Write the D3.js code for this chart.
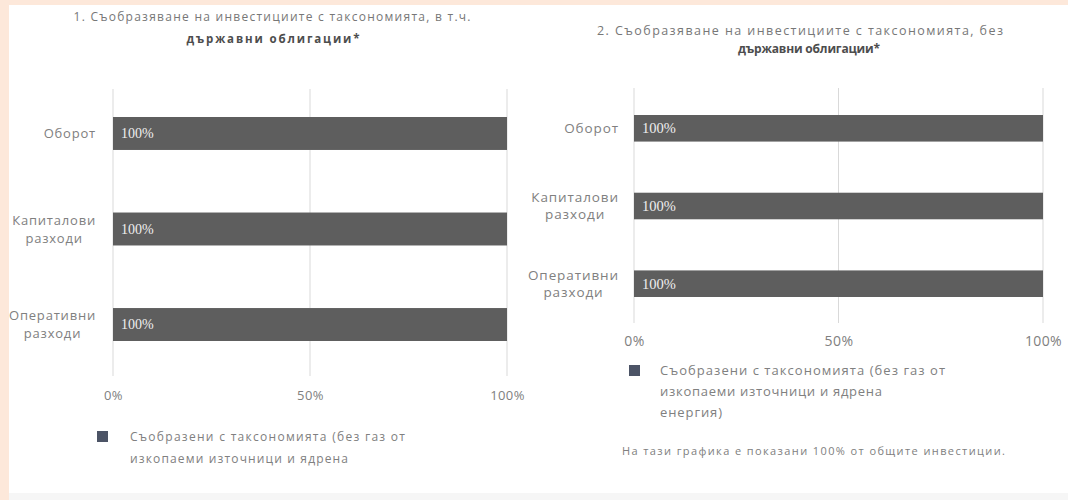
<!DOCTYPE html>
<html><head><meta charset="utf-8">
<script src="https://cdn.jsdelivr.net/npm/d3@7"></script>
<style>
html,body{margin:0;padding:0;background:#fde8da;}
svg{display:block;font-family:"Open Sans",sans-serif;}
</style></head>
<body>
<svg id="chart" width="1068" height="500"></svg>
<script>
// ---- data ----
const categories = ["Оборот", "Капиталови\nразходи", "Оперативни\nразходи"];
const valuesChart1 = [100, 100, 100];
const valuesChart2 = [100, 100, 100];
const tickValues = [0, 50, 100];
const tickLabels = ["0%", "50%", "100%"];
const title1 = ["1. Съобразяване на инвестициите с таксономията, в т.ч.", "държавни облигации*"];
const title2 = ["2. Съобразяване на инвестициите с таксономията, без", "държавни облигации*"];
const legend1 = ["Съобразени с таксономията (без газ от", "изкопаеми източници и ядрена"];
const legend2 = ["Съобразени с таксономията (без газ от", "изкопаеми източници и ядрена", "енергия)"];
const note2 = "На тази графика е показани 100% от общите инвестиции.";

const svg = d3.select("#chart");
const barColor = "#5e5e5e", gridColor = "#d9d9d9", textColor = "#808080";

svg.append("rect").attr("x", 9).attr("y", 5).attr("width", 1059).attr("height", 495).attr("fill", "#ffffff");
svg.append("rect").attr("x", 9).attr("y", 493).attr("width", 1059).attr("height", 7).attr("fill", "#f6f6f6");

function panel(cfg) {
  const g = svg.append("g");
  cfg.title.forEach((t, i) => {
    g.append("text").attr("x", cfg.titleX[i]).attr("y", cfg.titleY[i])
      .attr("text-anchor", "middle").attr("font-size", cfg.titleSize[i])
      .attr("font-weight", i === 1 ? 700 : 400)
      .attr("textLength", cfg.titleLen[i]).attr("lengthAdjust", "spacing")
      .attr("fill", i === 1 ? "#4d4d4d" : "#777777").text(t);
  });
  const x = d3.scaleLinear().domain([0, 100]).range(cfg.xRange);
  const y = d3.scaleBand().domain(categories).range(cfg.yRange).paddingInner(cfg.padInner).paddingOuter(0);
  g.selectAll(".grid").data(tickValues).join("line")
    .attr("x1", d => x(d)).attr("x2", d => x(d))
    .attr("y1", cfg.gridTop).attr("y2", cfg.gridBottom)
    .attr("stroke", gridColor).attr("stroke-width", 1);
  const ax = g.append("g").attr("transform", `translate(0,${cfg.tickY})`)
    .call(d3.axisBottom(x).tickValues(tickValues).tickFormat((d, i) => tickLabels[i]).tickSize(0));
  ax.select(".domain").remove();
  ax.selectAll("text").attr("font-size", cfg.tickSize).attr("fill", textColor)
    .attr("font-family", "Open Sans, sans-serif").attr("letter-spacing", 0.4).attr("dy", "0.32em").attr("y", 0);
  const vals = cfg.values;
  g.selectAll(".bar").data(categories).join("rect")
    .attr("x", x(0)).attr("y", d => y(d))
    .attr("width", (d, i) => x(vals[i]) - x(0)).attr("height", y.bandwidth())
    .attr("fill", barColor);
  g.selectAll(".lbl").data(categories).join("text")
    .attr("x", (d, i) => x(0) + 8).attr("y", d => y(d) + y.bandwidth() / 2)
    .attr("dy", "0.35em").attr("font-size", cfg.lblSize).attr("font-family", "Liberation Serif, serif")
    .attr("fill", "#eeeeee").text((d, i) => vals[i] + "%");
  // category labels: lines centred within a block that is right-aligned
  categories.forEach(c => {
    const lines = c.split("\n");
    const cy = y(c) + y.bandwidth() / 2;
    const widths = [];
    const ts = lines.map((l, i) => {
      const t = g.append("text").attr("font-size", cfg.catSize).attr("letter-spacing", cfg.catLs)
        .attr("fill", textColor).attr("x", 0)
        .attr("y", cy + (i - (lines.length - 1) / 2) * cfg.catLine).attr("dy", "0.35em").text(l);
      widths.push(t.node().getBBox().width);
      return t;
    });
    const maxW = d3.max(widths);
    ts.forEach((t, i) => t.attr("x", cfg.catRight - maxW / 2 - widths[i] / 2));
  });
  g.append("rect").attr("x", cfg.legX).attr("y", cfg.legY - 6).attr("width", 11).attr("height", 11).attr("fill", "#4c5466");
  cfg.legend.forEach((l, i) => {
    g.append("text").attr("x", cfg.legTextX).attr("y", cfg.legY + i * cfg.legLine).attr("dy", "0.32em")
      .attr("font-size", cfg.legSize).attr("textLength", cfg.legLen[i]).attr("lengthAdjust", "spacing")
      .attr("fill", textColor).text(l);
  });
}

panel({
  title: title1, titleX: [272, 273], titleY: [21, 43], titleSize: [12, 11.5], titleLen: [397, 173],
  xRange: [113, 507], yRange: [117, 341], padInner: 0.655,
  gridTop: 89, gridBottom: 376, tickY: 396, tickSize: 13, lblSize: 14,
  catRight: 96, catSize: 13, catLs: 0.8, catLine: 18,
  values: valuesChart1,
  legend: legend1, legX: 97, legY: 437, legTextX: 130, legSize: 12, legLine: 22, legLen: [275, 218]
});
panel({
  title: title2, titleX: [800, 809], titleY: [35, 53], titleSize: [12.5, 12], titleLen: [406, 142],
  xRange: [634, 1043], yRange: [115, 297], padInner: 0.658,
  gridTop: 88, gridBottom: 323, tickY: 342, tickSize: 14, lblSize: 14.5,
  catRight: 619, catSize: 13.5, catLs: 0.9, catLine: 17,
  values: valuesChart2,
  legend: legend2, legX: 629, legY: 371, legTextX: 660, legSize: 13, legLine: 21, legLen: [285, 222, 62]
});
svg.append("text").attr("x", 622).attr("y", 451).attr("dy", "0.32em")
  .attr("font-size", 11).attr("textLength", 383).attr("lengthAdjust", "spacing")
  .attr("fill", textColor).text(note2);
</script>
</body></html>
